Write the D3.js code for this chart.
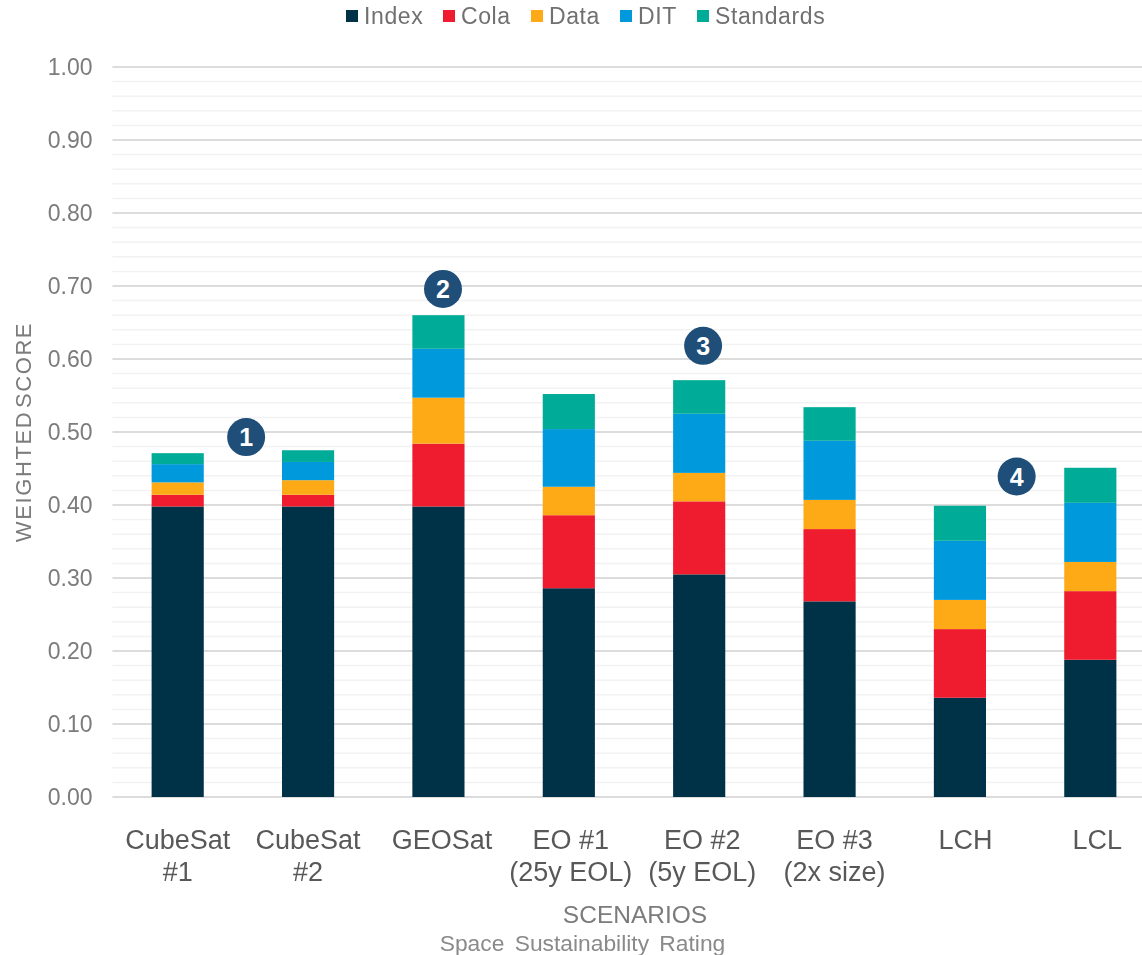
<!DOCTYPE html>
<html>
<head>
<meta charset="utf-8">
<script src="https://cdn.jsdelivr.net/npm/d3@7"></script>
<style>
  html, body { margin: 0; padding: 0; background: #fff; overflow: hidden; }
  svg { display: block; font-family: "Liberation Sans", Arial, sans-serif; }
</style>
</head>
<body>
<svg id="chart" width="1142" height="955" viewBox="0 0 1142 955"></svg>
<script>
// values
const scenarios = ["CubeSat #1", "CubeSat #2", "GEOSat", "EO #1", "EO #2", "EO #3", "LCH", "LCL"]
const seriesNames = ["Index", "Cola", "Data", "DIT", "Standards"]
const index = [0.398, 0.398, 0.398, 0.286, 0.305, 0.268, 0.136, 0.188]
const cola = [0.016, 0.016, 0.086, 0.100, 0.100, 0.099, 0.094, 0.094]
const dataScore = [0.017, 0.020, 0.063, 0.039, 0.039, 0.040, 0.040, 0.040]
const dit = [0.025, 0.025, 0.067, 0.079, 0.081, 0.081, 0.081, 0.081]
const standards = [0.015, 0.016, 0.046, 0.048, 0.046, 0.046, 0.048, 0.048]
const seriesColors = ["#023047", "#ee1c2e", "#fdaa17", "#0099dc", "#00ab97"]

const line1 = ["CubeSat", "CubeSat", "GEOSat", "EO #1", "EO #2", "EO #3", "LCH", "LCL"]
const line2 = ["#1", "#2", "", "(25y EOL)", "(5y EOL)", "(2x size)", "", ""]

const majorTicks = d3.range(0, 11).map(d => d / 10)
const minorTicks = d3.range(0, 51).map(d => d / 50)

// numbered markers: slot is measured in scenario widths from the left of the plot
const badgeLabels = ["1", "2", "3", "4"]
const badgeSlots = [1.025, 2.535, 4.53, 6.935]
const badgeScores = [0.493, 0.696, 0.618, 0.439]

const svg = d3.select("#chart")
const margin = {left: 112.5, top: 67, bottom: 158}
const width = 1155.5
const height = 955

const x = d3.scaleBand()
    .domain(scenarios)
    .range([margin.left, width])
    .paddingInner(0.6)
    .paddingOuter(0.3)

const slot = d3.scaleLinear()
    .domain([0, scenarios.length])
    .range([margin.left, width])

const y = d3.scaleLinear()
    .domain([0, 1])
    .range([height - margin.bottom, margin.top])

const color = d3.scaleOrdinal().domain(seriesNames).range(seriesColors)

//blur so the text looks like the scan
const defs = svg.append("defs")
defs.append("filter").attr("id", "soft")
    .append("feGaussianBlur").attr("stdDeviation", 0.6)
defs.append("filter").attr("id", "softer")
    .append("feGaussianBlur").attr("stdDeviation", 0.35)

// grid
svg.append("g").selectAll("line")
    .data(minorTicks)
    .join("line")
    .attr("x1", margin.left).attr("x2", width)
    .attr("y1", d => y(d)).attr("y2", d => y(d))
    .attr("stroke", "#f2f2f2")
    .attr("stroke-width", 1.5)

svg.append("g").selectAll("line")
    .data(majorTicks)
    .join("line")
    .attr("x1", margin.left).attr("x2", width)
    .attr("y1", d => y(d)).attr("y2", d => y(d))
    .attr("stroke", "#dcdcdc")
    .attr("stroke-width", 2)

// stacked bars
const rows = scenarios.map((s, i) => ({
    scenario: s,
    Index: index[i],
    Cola: cola[i],
    Data: dataScore[i],
    DIT: dit[i],
    Standards: standards[i]
}))
const stacked = d3.stack().keys(seriesNames)(rows)

svg.append("g").attr("filter", "url(#softer)")
    .selectAll("g")
    .data(stacked)
    .join("g")
    .attr("fill", d => color(d.key))
    .selectAll("rect")
    .data(d => d)
    .join("rect")
    .attr("x", d => x(d.data.scenario))
    .attr("width", x.bandwidth())
    .attr("y", d => y(d[1]))
    .attr("height", d => y(d[0]) - y(d[1]))

// y axis labels
const yAxis = d3.axisLeft(y)
    .tickValues(majorTicks)
    .tickFormat(d3.format(".2f"))
    .tickSize(0)
    .tickPadding(20)

svg.append("g")
    .attr("transform", `translate(${margin.left},0)`)
    .call(yAxis)
    .call(g => g.select(".domain").remove())
    .selectAll("text")
    .attr("font-size", 23)
    .attr("font-family", "Liberation Sans")
    .attr("fill", "#7b7b7b")
    .attr("filter", "url(#softer)")

// x axis labels, two lines. The labels sit a little off their bars in the original
const labelShift = [0, 0, 3.5, 2, 3, 5, 5.5, 7]
const xLabels = svg.append("g")
    .attr("text-anchor", "middle")
    .attr("font-size", 27)
    .attr("fill", "#595959")
    .attr("filter", "url(#softer)")
    .selectAll("g")
    .data(scenarios)
    .join("g")
    .attr("transform", (d, i) => `translate(${x(d) + x.bandwidth() / 2 + labelShift[i]},0)`)

xLabels.append("text")
    .attr("y", 849)
    .text((d, i) => line1[i])
xLabels.append("text")
    .attr("y", 881)
    .text((d, i) => line2[i])

// axis titles
svg.append("text")
    .attr("transform", "translate(31,432) rotate(-90)")
    .attr("text-anchor", "middle")
    .attr("font-size", 22)
    .attr("letter-spacing", 1.6)
    .attr("word-spacing", -5)
    .attr("fill", "#7b7b7b")
    .attr("filter", "url(#soft)")
    .text("WEIGHTED SCORE")

svg.append("text")
    .attr("x", 635).attr("y", 923)
    .attr("text-anchor", "middle")
    .attr("font-size", 24.5)
    .attr("fill", "#7b7b7b")
    .attr("filter", "url(#soft)")
    .text("SCENARIOS")

svg.append("text")
    .attr("x", 582.5).attr("y", 951)
    .attr("text-anchor", "middle")
    .attr("font-size", 22.8)
    .attr("word-spacing", 4)
    .attr("fill", "#8a8a8a")
    .attr("filter", "url(#softer)")
    .text("Space Sustainability Rating")

// legend
const legendLeft = [346, 443, 531, 620, 697]
const legend = svg.append("g")
    .attr("filter", "url(#soft)")
    .selectAll("g")
    .data(seriesNames)
    .join("g")
    .attr("transform", (d, i) => `translate(${legendLeft[i]},16)`)

legend.append("rect")
    .attr("x", 0).attr("y", -6)
    .attr("width", 12).attr("height", 12)
    .attr("fill", d => color(d))

legend.append("text")
    .attr("x", 18).attr("y", 8)
    .attr("font-size", 23)
    .attr("letter-spacing", 0.6)
    .attr("fill", "#707070")
    .text(d => d)

// numbered badges
const badges = svg.append("g")
    .selectAll("g")
    .data(badgeLabels)
    .join("g")
    .attr("transform", (d, i) => `translate(${slot(badgeSlots[i])},${y(badgeScores[i])})`)

badges.append("circle")
    .attr("r", 19)
    .attr("fill", "#1f4e79")

badges.append("text")
    .attr("text-anchor", "middle")
    .attr("y", 9)
    .attr("font-size", 25)
    .attr("font-weight", "bold")
    .attr("fill", "#fff")
    .text(d => d)
</script>
</body>
</html>
